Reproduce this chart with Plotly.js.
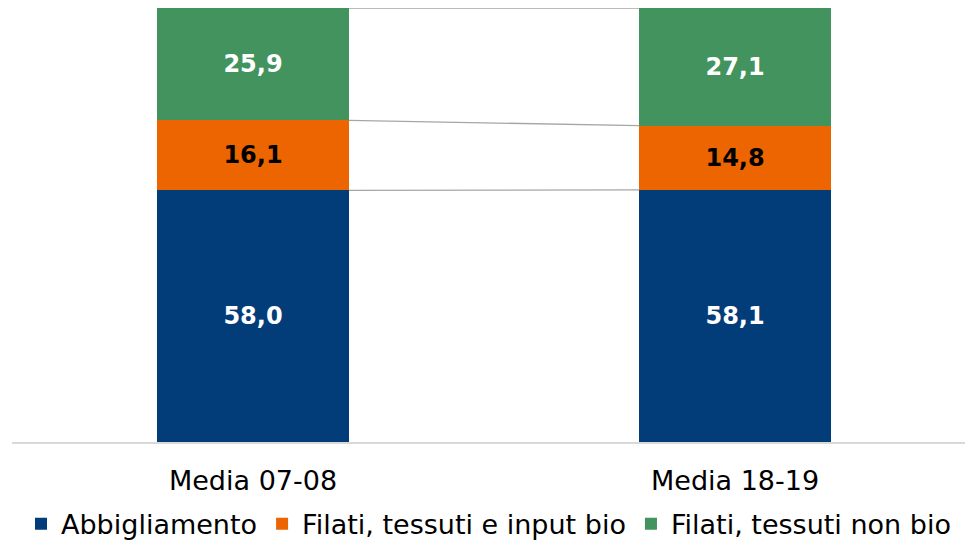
<!DOCTYPE html>
<html><head><meta charset="utf-8">
<script src="https://cdn.plot.ly/plotly-3.0.1.min.js"></script>
<style>html,body{margin:0;padding:0;background:#fff}</style>
</head><body><div id="chart" style="width:965px;height:551px"></div>
<script>
const categories = ["Media 07-08", "Media 18-19"];
const seriesNames = ["Abbigliamento", "Filati, tessuti e input bio", "Filati, tessuti non bio"];
const abbigliamento = [58.0, 58.1];
const filatiBio = [16.1, 14.8];
const filatiNonBio = [25.9, 27.1];
const colors = ["#023d7a", "#ec6500", "#42935e"];
const labelColors = ["#ffffff", "#000000", "#ffffff"];

const FONT = "'Century Gothic', 'URW Gothic', 'DejaVu Sans', sans-serif";
const BARW = 0.398;
const values = [abbigliamento, filatiBio, filatiNonBio];
const fmt = v => v.toFixed(1).replace('.', ',');

const traces = values.map((vals, i) => ({
  type: 'bar', x: [0, 1], y: vals, name: seriesNames[i],
  width: BARW,
  marker: {color: colors[i], line: {width: 0}},
  text: vals.map(fmt), textposition: 'inside', insidetextanchor: 'middle',
  textfont: {family: FONT, size: 24, color: labelColors[i], weight: 'bold'},
  hoverinfo: 'none'
}));

// series lines connecting the stacked segment tops
const cum = [0, 0];
values.forEach(vals => {
  cum[0] += vals[0]; cum[1] += vals[1];
  traces.push({
    type: 'scatter', mode: 'lines', x: [BARW / 2, 1 - BARW / 2], y: [cum[0], cum[1]],
    line: {color: '#a6a6a6', width: 1.3}, showlegend: false, hoverinfo: 'none'
  });
});

const layout = {
  width: 965, height: 551,
  margin: {l: 12, r: 0, t: 8, b: 109},
  barmode: 'stack',
  paper_bgcolor: '#fff', plot_bgcolor: '#fff',
  font: {family: FONT, color: '#000'},
  xaxis: {
    range: [-0.5, 1.477], tickvals: [0, 1], ticktext: categories, automargin: false,
    showgrid: false, zeroline: false, showline: true, linecolor: '#d9d9d9', linewidth: 1.5,
    ticks: '', tickfont: {family: FONT, size: 27, color: '#000'}, ticklabelstandoff: 14
  },
  yaxis: {range: [0, 100], visible: false, showgrid: false, zeroline: false, automargin: false},
  showlegend: true,
  legend: {
    orientation: 'h', x: 0.5, xanchor: 'center', y: -0.246, yanchor: 'bottom',
    traceorder: 'normal', font: {family: FONT, size: 27, color: '#000'},
    itemwidth: 30, tracegroupgap: 0
  }
};

Plotly.newPlot('chart', traces, layout, {displayModeBar: false, staticPlot: true});
</script></body></html>
